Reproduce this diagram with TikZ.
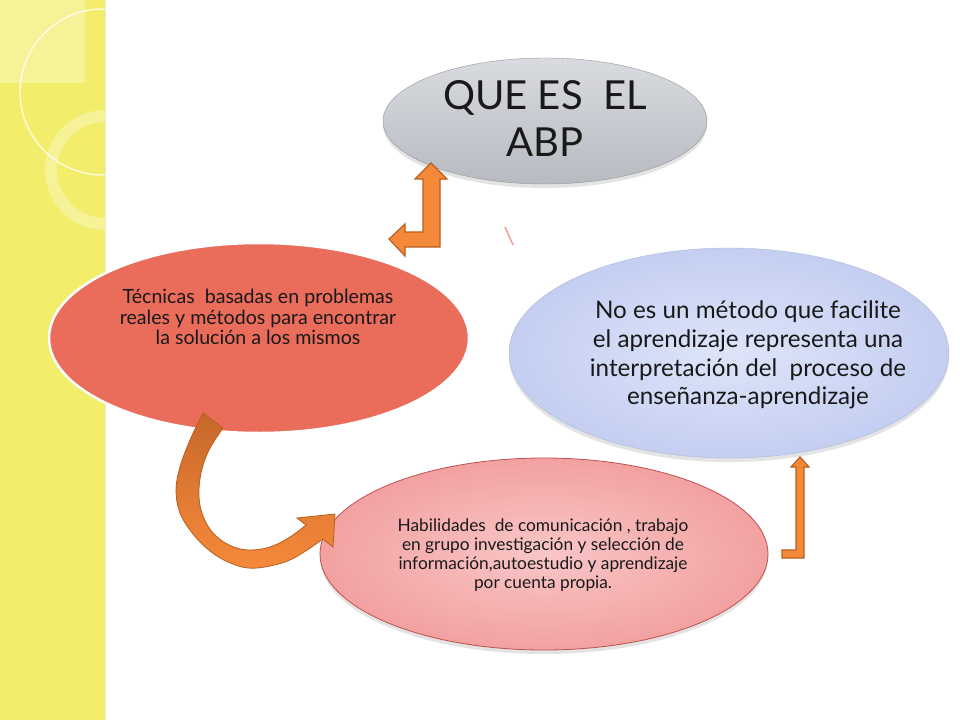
\documentclass[tikz,border=0pt]{standalone}
\usepackage{fontspec}
\setmainfont{Lato}
\usetikzlibrary{shapes.geometric,shadows}
\definecolor{stripY}{HTML}{F3ED6C}
\definecolor{redE}{HTML}{EA6C5B}
\definecolor{grayT}{HTML}{D9DBE0}
\definecolor{grayB}{HTML}{B7BAC1}
\definecolor{blueIn}{HTML}{DEE5F9}
\definecolor{blueOut}{HTML}{C4CEF1}
\definecolor{pinkIn}{HTML}{F9C6C6}
\definecolor{pinkOut}{HTML}{F3A1A1}
\definecolor{pinkLine}{HTML}{C0504D}
\definecolor{arrOr}{HTML}{F5893A}
\definecolor{arrDark}{HTML}{C6672A}
\definecolor{arrLine}{HTML}{B95E1E}
\definecolor{tick}{HTML}{F2A08C}
\tikzset{
  blob/.style={ellipse, inner sep=0pt, outer sep=0pt},
  softshadow/.style={drop shadow={opacity=0.22, shadow xshift=0pt, shadow yshift=-4pt}},
  blockarrow/.style={fill=arrOr, draw=arrLine, line width=1.2pt, line join=miter},
  txt/.style={align=center, text=black!90, inner sep=0pt},
}
\begin{document}
\begin{tikzpicture}[x=1pt,y=-1pt]
\useasboundingbox (0,0) rectangle (960,720);
\fill[white] (0,0) rectangle (960,720);
% yellow strip
\fill[stripY] (0,0) rectangle (105,720);
\begin{scope}
  \clip (0,0) rectangle (105,720);
  \fill[white,opacity=0.3] (0,0) rectangle (85,83);
  \draw[white,opacity=0.75,line width=1.5pt] (103,92) circle[radius=83pt];
  \draw[white,opacity=0.3,line width=12pt] (105,170) circle[radius=54pt];
\end{scope}
\draw[stripY!80!black,opacity=0.3,line width=1pt] (105,0) -- (105,720);

% ellipses
\node[blob, softshadow, minimum width=324pt, minimum height=126pt,
      top color=grayT, bottom color=grayB, draw=grayB!80!black, line width=0.4pt] (abp) at (545,121) {};
\node[blob, softshadow, minimum width=440pt, minimum height=210pt,
      inner color=blueIn, outer color=blueOut, draw=blueOut!90!black, line width=0.4pt] (nomet) at (729,353) {};
\node[blob, softshadow, minimum width=448pt, minimum height=192pt,
      inner color=pinkIn, outer color=pinkOut, draw=pinkLine, line width=0.8pt] (habil) at (544,554) {};
\node[blob, minimum width=420pt, minimum height=190pt,
      fill=redE, draw=white, line width=2.5pt] (tecn) at (259,338) {};

% texts
\node[txt, font=\fontsize{40}{47}\selectfont] (tabp) at (545,119) {QUE ES\ \ EL\\ABP};
\node[txt, font=\fontsize{19.6}{20.8}\selectfont] (ttecn) at (258,317) {Técnicas\ \ basadas en problemas\\reales y métodos para encontrar\\la solución a los mismos};
\node[txt, font=\fontsize{24.2}{28.6}\selectfont] (tnomet) at (748,355) {No es un método que facilite\\el aprendizaje representa una\\interpretación del\ \ proceso de\\enseñanza-aprendizaje};
\node[txt, font=\fontsize{17.3}{19}\selectfont] (thabil) at (543,555) {Habilidades\ \ de comunicación , trabajo\\en grupo investigación y selección de\\información,autoestudio y aprendizaje\\por cuenta propia.};

% bent arrow: up to abp and left toward tecn
\draw[blockarrow] (431,163) -- (447,179) -- (440,179) -- (440,247) -- (405,247) -- (405,256)
  -- (389,239) -- (405,224) -- (405,232) -- (423,232) -- (423,179) -- (415,179) -- cycle;

% small tick
\draw[tick, line width=1.5pt] (505,227) -- (513,245);

% curved arrow from tecn to habil
\draw[top color=arrDark, bottom color=arrOr, middle color=arrDark!45!arrOr, draw=arrLine, line width=0.8pt, line join=miter]
  plot[smooth, tension=0.6] coordinates {(203,413) (190,440) (180,467) (176,490) (180,513) (193,534) (210,551) (228,562) (248,568) (270,566) (294,558) (323,539)}
  -- (333,547) -- (335,514) -- (297,518) --
  plot[smooth, tension=0.6] coordinates {(306,525) (290,537) (270,547) (248,550) (229,545) (213,533) (203,516) (199,497) (201,473) (209,450) (223,428)}
  -- cycle;

% right arrow up to nomet
\draw[blockarrow] (800,457) -- (809,467) -- (804,467) -- (804,558) -- (782,558) -- (782,550)
  -- (796,550) -- (796,467) -- (791,467) -- cycle;
\end{tikzpicture}
\end{document}
